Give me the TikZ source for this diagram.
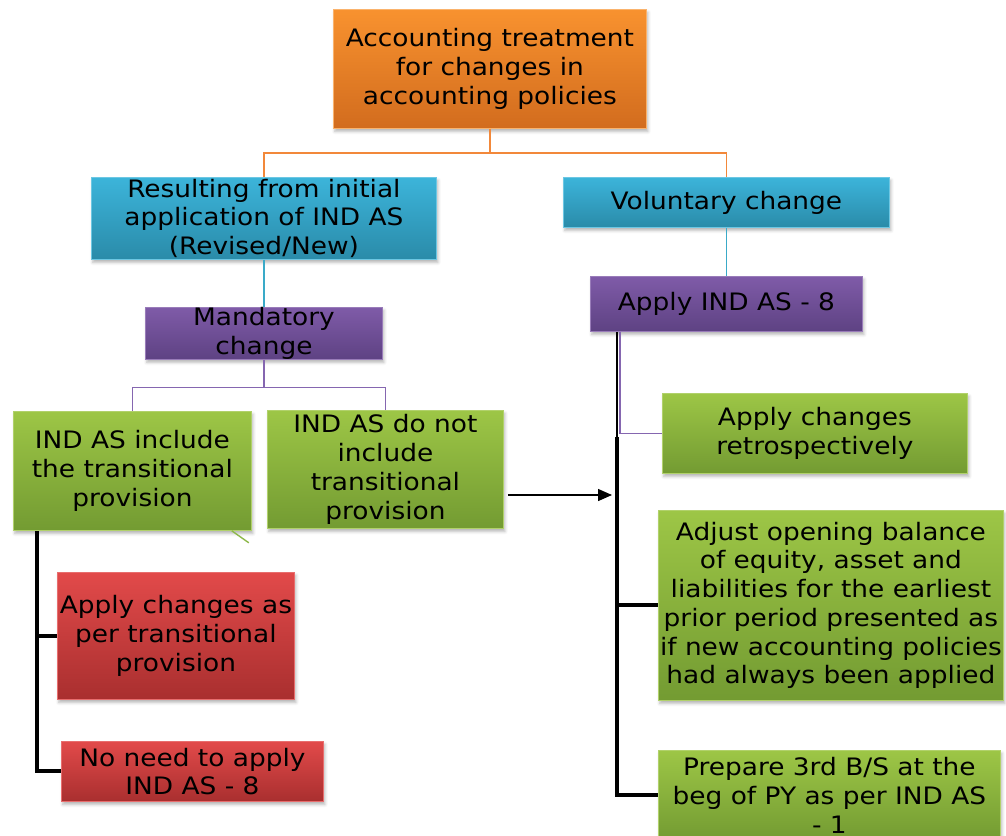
\documentclass[tikz,border=0pt]{standalone}
\usepackage{fontspec}
\setmainfont[FakeStretch=1.1]{DejaVu Sans}
\usetikzlibrary{shadows.blur,arrows.meta}

% box fills: lighter top, darker bottom
\definecolor{orangeT}{HTML}{F8922F}
\definecolor{orangeB}{HTML}{D26C1E}
\definecolor{blueT}{HTML}{3CB4DA}
\definecolor{blueB}{HTML}{2A8BA9}
\definecolor{purpT}{HTML}{7F5BA8}
\definecolor{purpB}{HTML}{5E4283}
\definecolor{greenT}{HTML}{9DC646}
\definecolor{greenB}{HTML}{739B32}
\definecolor{redT}{HTML}{E24A4A}
\definecolor{redB}{HTML}{A92F2F}
\definecolor{orangeL}{HTML}{F2883A}
\definecolor{tealL}{HTML}{3AAAC8}
\definecolor{purpL}{HTML}{8566B0}
\definecolor{greenL}{HTML}{8DB84A}

\tikzset{
  chart/.style={rectangle, anchor=north west, inner sep=0pt, align=center,
    font=\fontsize{24}{28.7}\selectfont, line width=0.8pt,
    blur shadow={shadow xshift=1.5pt, shadow yshift=-3pt,
      shadow blur radius=3pt, shadow opacity=30}},
  orangebox/.style={chart, top color=orangeT, bottom color=orangeB, draw=orangeT!70!white},
  bluebox/.style={chart, top color=blueT, bottom color=blueB, draw=blueT!75!white},
  purplebox/.style={chart, top color=purpT, bottom color=purpB, draw=purpT!80!white},
  greenbox/.style={chart, top color=greenT, bottom color=greenB, draw=greenT!80!white},
  redbox/.style={chart, top color=redT, bottom color=redB, draw=redT!80!white},
  orangeline/.style={draw=orangeL, line width=1.4pt},
  tealline/.style={draw=tealL, line width=1.4pt},
  purpleline/.style={draw=purpL, line width=1.4pt},
  spine/.style={draw=black, line width=4pt},
  thinspine/.style={draw=black, line width=2.5pt},
}

% \chartbox{name}{style}{x1}{y1}{x2}{y2}{text}
\newcommand\chartbox[7]{%
  \node[#2, minimum width=#5pt-#3pt, minimum height=#6pt-#4pt] (#1) at (#3,#4) {#7};}

\begin{document}
\begin{tikzpicture}[x=1pt,y=-1pt]
\useasboundingbox (0,0) rectangle (1006,835);

% top level
\chartbox{top}{orangebox}{333}{9}{646}{128}{Accounting treatment\\for changes in\\accounting policies}

% second level
\chartbox{initial}{bluebox}{91}{177}{436}{259}{Resulting from initial\\application of IND AS\\(Revised/New)}
\chartbox{voluntary}{bluebox}{563}{177}{889}{227}{Voluntary change}

% third level
\chartbox{mandatory}{purplebox}{145}{307}{382}{358}{Mandatory\\change}
\chartbox{applyeight}{purplebox}{590}{276}{862}{331}{Apply IND AS - 8}

% mandatory branches
\chartbox{incl}{greenbox}{13}{411}{251}{530}{IND AS include\\the transitional\\provision}
\chartbox{notincl}{greenbox}{267}{410}{503}{528}{IND AS do not\\include\\transitional\\provision}

\chartbox{pertrans}{redbox}{57}{572}{294}{699}{Apply changes as\\per transitional\\provision}
\chartbox{noneed}{redbox}{61}{741}{323}{801}{No need to apply\\IND AS - 8}

% IND AS 8 steps
\chartbox{retro}{greenbox}{662}{393}{967}{473}{Apply changes\\retrospectively}
\chartbox{adjust}{greenbox}{658}{510}{1003}{700}{Adjust opening balance\\of equity, asset and\\liabilities for the earliest\\prior period presented as\\if new accounting policies\\had always been applied}
\chartbox{prepare}{greenbox}{658}{750}{1000}{840}{Prepare 3rd B/S at the\\beg of PY as per IND AS\\- 1}

% connectors: top to second level
\draw[orangeline] (top.south) -- ++(0,24) coordinate (jtop);
\draw[orangeline] (jtop) -| (initial.north);
\draw[orangeline] (jtop) -| (voluntary.north);

% second to third level
\draw[tealline] (initial.south) -- (mandatory.north);
\draw[tealline] (voluntary.south) -- (applyeight.north);

% mandatory change splits
\draw[purpleline] (mandatory.south) -- ++(0,28) coordinate (jmand);
\draw[purpleline] (jmand) -| (incl.north);
\draw[purpleline] (jmand) -| (notincl.north);

% spine under the transitional provision box
\coordinate (lspine) at ([xshift=24pt]incl.south west);
\draw[spine] (lspine) |- (noneed.west);
\draw[spine] (lspine |- pertrans.west) -- (pertrans.west);
\draw[greenL, line width=1.4pt] ([xshift=-20pt]incl.south east) -- ++(17,12);

% spine under Apply IND AS - 8
\coordinate (rspine) at ([xshift=27pt]applyeight.south west);
\coordinate (rspinemid) at (rspine |- 0,437);
\draw[thinspine] (rspine) -- (rspinemid);
\draw[purpleline] ([xshift=3pt]rspine) |- (retro.west);
\draw[spine] (rspinemid) |- (prepare.west);
\draw[spine] (rspine |- adjust.west) -- (adjust.west);

% no transitional provision leads to IND AS 8
\coordinate (arrowend) at (612,495);
\draw[black, line width=1.4pt, -{Triangle[length=14pt,width=12pt]}]
  (notincl.east |- arrowend) ++(4,0) -- (arrowend);
\end{tikzpicture}
\end{document}
